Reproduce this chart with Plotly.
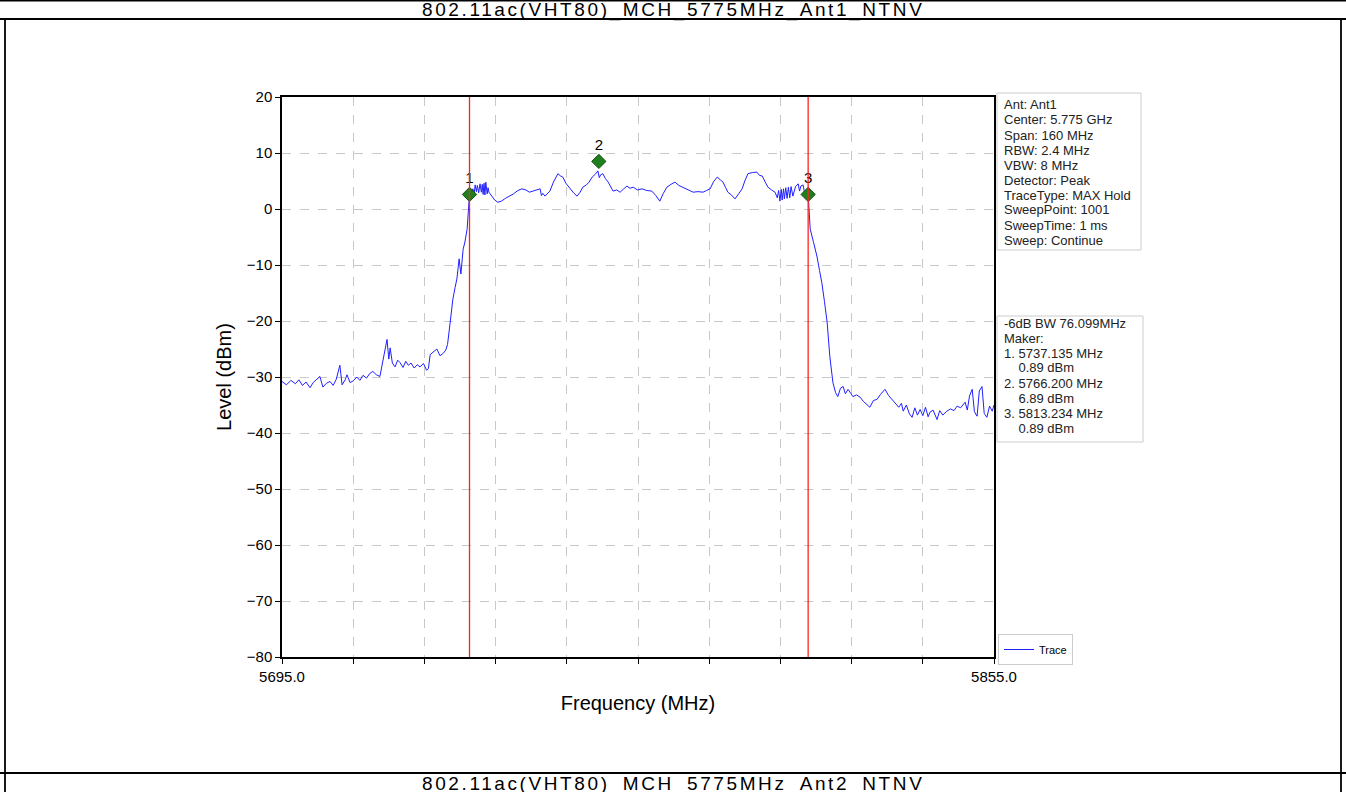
import plotly.graph_objects as go

# --- data ---
title_top = "802.11ac(VHT80)_MCH_5775MHz_Ant1_NTNV"
title_next = "802.11ac(VHT80)_MCH_5775MHz_Ant2_NTNV"

trace_freq = [
    5695.0, 5696.0, 5697.0, 5698.0, 5698.8, 5699.6, 5700.4, 5701.3, 5702.0, 5702.8,
    5703.5, 5704.2, 5705.0, 5705.8, 5706.5, 5707.2, 5708.0, 5708.5, 5709.2, 5709.6,
    5710.3, 5711.0, 5711.8, 5712.5, 5713.2, 5714.0, 5714.7, 5715.4, 5716.2, 5717.0,
    5717.6, 5718.2, 5718.6, 5719.0, 5719.3, 5719.8, 5720.4, 5721.0, 5721.5, 5722.2,
    5722.8, 5723.4, 5724.0, 5724.7, 5725.4, 5726.0, 5726.8, 5727.5, 5727.9, 5728.3,
    5729.0, 5729.8, 5730.5, 5731.2, 5731.8, 5732.2, 5732.8, 5733.4, 5733.9, 5734.3,
    5734.8, 5735.2, 5735.7, 5736.1, 5736.6, 5737.0, 5737.135,
    5737.5, 5737.9, 5738.2, 5738.4, 5738.7, 5738.9, 5739.2, 5739.5, 5739.8, 5740.0,
    5740.2, 5740.4, 5740.6, 5740.8, 5741.1, 5741.3, 5741.5,
    5742.2, 5742.8, 5743.5, 5744.3, 5745.2, 5746.2, 5747.0, 5748.0, 5748.9, 5749.8,
    5750.6, 5751.4, 5752.2, 5753.0, 5753.3, 5753.6, 5754.1, 5754.7, 5755.2, 5756.0, 5757.0,
    5757.6, 5758.1, 5758.8, 5759.7, 5760.5, 5761.3, 5762.0, 5762.6, 5763.4, 5764.0,
    5764.7, 5765.4, 5766.0, 5766.3, 5766.6, 5767.1, 5767.7, 5768.3, 5768.9, 5769.4, 5770.2,
    5771.0, 5771.8, 5772.5, 5773.2, 5773.9, 5774.9, 5775.9, 5777.0, 5778.1, 5779.0,
    5779.9, 5780.7, 5781.5, 5782.4, 5783.3, 5784.2, 5785.1, 5786.2, 5787.4, 5788.5,
    5789.6, 5790.4, 5791.2, 5792.0, 5792.8, 5793.5, 5794.1, 5794.7, 5795.2, 5796.0,
    5796.8, 5797.6, 5798.4, 5799.0, 5799.7, 5800.7, 5801.7, 5802.3, 5802.9, 5803.6,
    5804.2, 5805.0, 5805.8, 5806.3, 5806.6, 5806.9, 5807.2, 5807.4, 5807.7, 5807.9,
    5808.2, 5808.5, 5808.8, 5809.1, 5809.4, 5809.8,
    5810.4, 5811.0, 5811.3, 5811.6, 5812.1, 5812.4, 5812.7, 5813.234,
    5813.7, 5814.4, 5815.2, 5815.8, 5816.3, 5816.9, 5817.5, 5818.1, 5818.8, 5819.4,
    5819.9, 5820.5, 5821.1, 5821.6, 5822.2, 5822.8, 5823.3, 5824.1, 5824.9, 5825.7,
    5826.4, 5827.1, 5827.9, 5828.7, 5829.5, 5830.5, 5831.3, 5832.3, 5833.0, 5833.6,
    5834.2, 5834.6, 5835.3, 5836.0, 5836.6, 5837.2, 5837.8, 5838.4, 5839.0, 5839.6,
    5840.2, 5840.6, 5841.3, 5842.2, 5842.8, 5843.5, 5844.4, 5845.2, 5846.0, 5846.7,
    5847.5, 5848.5, 5849.0, 5849.5, 5850.1, 5850.6, 5851.2, 5851.7, 5852.3, 5852.8,
    5853.4, 5854.0, 5854.6, 5855.0,
]
trace_level = [
    -30.8, -31.4, -30.6, -31.2, -30.5, -31.5, -30.9, -31.9, -31.0, -30.4,
    -29.9, -31.8, -31.1, -30.8, -31.5, -30.4, -27.9, -31.4, -30.5, -29.6,
    -31.0, -30.7, -30.0, -30.6, -29.7, -30.2, -29.4, -29.0, -29.6, -29.9,
    -27.3, -25.0, -23.3, -26.8, -24.8, -27.5, -28.2, -27.0, -27.4, -28.3,
    -27.2, -27.9, -27.5, -28.4, -27.8, -28.2, -27.6, -28.8, -28.5, -26.0,
    -25.6, -25.0, -26.2, -25.8, -25.2, -24.2, -20.2, -16.1, -14.0, -12.5,
    -8.9, -11.6, -7.2, -5.9, -3.6, 0.5, 2.6,
    3.0, 3.6, 2.7, 4.3, 3.1, 4.2, 2.9, 4.5, 3.0, 4.4,
    2.6, 4.6, 2.5, 4.8, 2.7, 3.8, 3.0,
    2.3, 1.6, 1.2, 1.4, 1.9, 2.3, 2.7, 3.3, 3.6, 3.4,
    3.0, 3.2, 3.4, 3.6, 2.4, 2.8, 2.3, 2.9, 3.2, 4.8, 6.3,
    5.9, 5.7, 4.6, 3.6, 2.9, 2.3, 3.0, 3.9, 4.3, 4.8,
    5.7, 6.2, 6.8, 5.6, 6.1, 6.3, 5.4, 4.8, 3.8, 3.2, 3.4,
    3.0, 3.6, 4.1, 3.7, 3.9, 3.4, 3.6, 3.3, 3.2, 2.4,
    1.4, 2.8, 3.9, 4.4, 4.8, 4.2, 3.9, 3.4, 3.0, 3.1,
    3.0, 3.3, 3.6, 4.9, 5.7, 5.2, 4.8, 3.8, 3.0, 2.5,
    1.8, 2.7, 3.6, 5.0, 6.3, 6.5, 6.6, 6.0, 5.9, 4.8,
    3.9, 3.4, 3.0, 2.0, 3.3, 1.4, 3.5, 1.6, 3.6, 1.8,
    3.8, 1.9, 3.9, 2.0, 4.0, 2.3,
    4.0, 4.5, 3.2, 4.1, 4.3, 3.0, 3.3, 2.6,
    -3.6, -5.8, -8.4, -11.0, -13.1, -16.5, -20.2, -26.3, -31.0, -32.8,
    -33.5, -32.0, -31.7, -33.0, -32.2, -32.9, -33.5, -33.2, -33.6, -34.4,
    -34.9, -35.4, -34.2, -34.0, -33.1, -32.2, -33.3, -34.3, -35.0, -35.4,
    -34.7, -36.1, -35.0, -36.6, -37.2, -35.5, -36.8, -35.8, -36.9, -35.4,
    -37.1, -36.3, -35.9, -37.6, -36.0, -36.8, -36.1, -35.7, -36.0, -35.2,
    -35.5, -34.5, -35.9, -33.4, -32.2, -36.2, -37.0, -32.5, -31.7, -36.5,
    -37.2, -35.2, -36.1, -35.0,
]

marker_labels = ["1", "2", "3"]
marker_freq = [5737.135, 5766.2, 5813.234]
marker_level = [2.6, 8.5, 2.6]
bw_edges = [5737.135, 5813.234]

info_lines = [
    "Ant: Ant1", "Center: 5.775 GHz", "Span: 160 MHz", "RBW: 2.4 MHz", "VBW: 8 MHz",
    "Detector: Peak", "TraceType: MAX Hold", "SweepPoint: 1001", "SweepTime: 1 ms",
    "Sweep: Continue",
]
marker_lines = [
    "-6dB BW 76.099MHz", "Maker:", "1. 5737.135 MHz", "    0.89 dBm", "2. 5766.200 MHz",
    "    6.89 dBm", "3. 5813.234 MHz", "    0.89 dBm",
]

x_start, x_stop, x_step = 5695.0, 5855.0, 16.0
y_min, y_max = -80, 20

W, H = 1346, 792
L, R, T, B = 282, 994, 97, 657
FONT = "Liberation Sans, Arial, sans-serif"


def px_x(px):
    return (px - L) / (R - L)


def px_y(py):
    return (B - py) / (B - T)


fig = go.Figure()
fig.add_trace(go.Scatter(
    x=trace_freq, y=trace_level, mode="lines", name="Trace",
    line=dict(color="#2020ff", width=1),
))
fig.add_trace(go.Scatter(
    x=marker_freq, y=marker_level, mode="markers+text", text=marker_labels,
    textposition="top center", textfont=dict(size=15, color="black", family=FONT),
    marker=dict(symbol="diamond", size=11, color="#1f7f1f", line=dict(color="#145214", width=1)),
    showlegend=False,
))

shapes = []
for f in bw_edges:
    shapes.append(dict(type="line", xref="x", yref="paper", x0=f, x1=f, y0=0, y1=1,
                       line=dict(color="#ff2020", width=1.3), layer="above"))

# info boxes
shapes.append(dict(type="rect", xref="paper", yref="paper",
                   x0=px_x(997), x1=px_x(1141), y0=px_y(250), y1=px_y(93),
                   line=dict(color="#cccccc", width=1), fillcolor="white"))
shapes.append(dict(type="rect", xref="paper", yref="paper",
                   x0=px_x(997), x1=px_x(1143), y0=px_y(442), y1=px_y(316),
                   line=dict(color="#cccccc", width=1), fillcolor="white"))

# document table frame
black = dict(color="black", width=1.8)
shapes += [
    dict(type="line", xref="paper", yref="paper", x0=px_x(0), x1=px_x(W), y0=px_y(0.5), y1=px_y(0.5), line=black),
    dict(type="line", xref="paper", yref="paper", x0=px_x(0), x1=px_x(W), y0=px_y(19), y1=px_y(19), line=black),
    dict(type="line", xref="paper", yref="paper", x0=px_x(0), x1=px_x(W), y0=px_y(773), y1=px_y(773), line=black),
    dict(type="line", xref="paper", yref="paper", x0=px_x(5), x1=px_x(5), y0=px_y(19), y1=px_y(H), line=black),
    dict(type="line", xref="paper", yref="paper", x0=px_x(1341), x1=px_x(1341), y0=px_y(19), y1=px_y(H), line=black),
]

annotations = []
for i, s in enumerate(info_lines):
    annotations.append(dict(xref="paper", yref="paper", x=px_x(1002), y=px_y(105 + 15 * i),
                            text=s, showarrow=False, xanchor="left", yanchor="middle",
                            font=dict(size=13, color="#222222", family=FONT)))
for i, s in enumerate(marker_lines):
    annotations.append(dict(xref="paper", yref="paper", x=px_x(1002), y=px_y(323 + 15 * i),
                            text=s.replace(" ", "&nbsp;"),
                            showarrow=False, xanchor="left", yanchor="middle",
                            font=dict(size=13, color="#222222", family=FONT)))


def row_title(text):
    # the document's title cells are set wide; spread the letters a little
    return '<span style="letter-spacing:2.6px">%s</span>' % text


annotations.append(dict(xref="paper", yref="paper", x=px_x(673), y=px_y(9.5), text=row_title(title_top),
                        showarrow=False, xanchor="center", yanchor="middle",
                        font=dict(size=19, color="black", family=FONT)))
annotations.append(dict(xref="paper", yref="paper", x=px_x(673), y=px_y(783.5), text=row_title(title_next),
                        showarrow=False, xanchor="center", yanchor="middle",
                        font=dict(size=19, color="black", family=FONT)))

tickvals = [x_start + x_step * k for k in range(11)]
ticktext = ["%.1f" % x_start] + [""] * 9 + ["%.1f" % x_stop]

fig.update_layout(
    width=W, height=H,
    margin=dict(l=L, r=W - R, t=T, b=H - B),
    paper_bgcolor="white", plot_bgcolor="white",
    font=dict(family=FONT, color="black"),
    shapes=shapes, annotations=annotations,
    legend=dict(x=px_x(998), y=px_y(634), xanchor="left", yanchor="top",
                bgcolor="white", bordercolor="#cccccc", borderwidth=1,
                font=dict(size=11, family=FONT)),
    xaxis=dict(
        range=[x_start, x_stop], tickvals=tickvals, ticktext=ticktext,
        showline=True, mirror=True, linecolor="black", linewidth=1.5,
        ticks="outside", ticklen=5, tickcolor="black", tickfont=dict(size=15),
        showgrid=True, gridcolor="#c8c8c8", griddash="dash", gridwidth=1, zeroline=False,
        title=dict(text="Frequency (MHz)", font=dict(size=20), standoff=12),
    ),
    yaxis=dict(
        range=[y_min, y_max], dtick=10, tick0=0,
        showline=True, mirror=True, linecolor="black", linewidth=1.5,
        ticks="outside", ticklen=5, tickcolor="black", tickfont=dict(size=15),
        showgrid=True, gridcolor="#c8c8c8", griddash="dash", gridwidth=1, zeroline=False,
        title=dict(text="Level (dBm)", font=dict(size=20), standoff=10),
    ),
)

# page body has a default 8px margin; drop it so the figure sits at the window origin
fig.write_html("out.html", config={"displayModeBar": False},
               post_script="document.body.style.margin='0';")
